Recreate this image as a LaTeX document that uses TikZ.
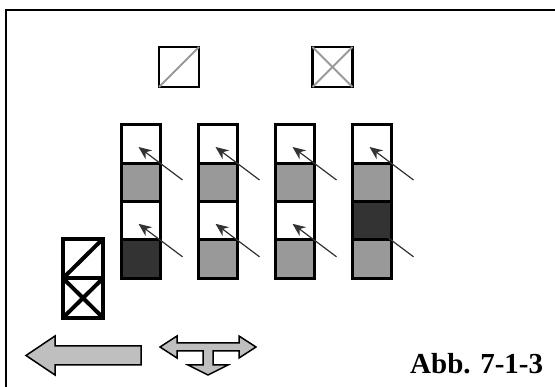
\documentclass[tikz,border=0pt]{standalone}
\usepackage{fontspec}
\setmainfont{Liberation Serif}
\usetikzlibrary{arrows.meta}

\definecolor{cellgray}{gray}{0.6}
\definecolor{celldark}{gray}{0.2}
\definecolor{arrowfill}{gray}{0.75}

\tikzset{
    cell/.style={draw, line width=3pt, minimum width=39pt, minimum height=38.4pt, inner sep=0pt, outer sep=0pt},
    markbox/.style={draw, line width=2.5pt, minimum size=40pt, inner sep=0pt, outer sep=0pt},
    markline/.style={draw=cellgray, line width=2pt},
    stackbox/.style={draw, line width=4pt, minimum width=40pt, minimum height=39.5pt, inner sep=0pt, outer sep=0pt},
    stackline/.style={line width=4pt},
    pointer/.style={draw=celldark, line width=1.2pt, -{Stealth[length=13pt,width=11pt]}},
    bigarrow/.style={draw, line width=1.5pt, fill=arrowfill, line join=miter}
}

\begin{document}
\begin{tikzpicture}[x=1pt, y=-1pt]
    \useasboundingbox (0,0) rectangle (555,387);
    % frame
    \draw[line width=2pt] (6,390) -- (6,10) -- (558,10);

    % the two marks on top
    \node[markbox] (marka) at (179,67) {};
    \node[markbox] (markb) at (332.5,67) {};
    \draw[markline] (marka.south west) -- (marka.north east);
    \draw[markline] (markb.south west) -- (markb.north east);
    \draw[markline] (markb.north west) -- (markb.south east);

    % the four columns
    \foreach \c/\fa/\fb/\fc/\fd in {1/white/cellgray/white/celldark,
                                    2/white/cellgray/white/cellgray,
                                    3/white/cellgray/white/cellgray,
                                    4/white/cellgray/celldark/cellgray}
        \foreach \r/\f in {1/\fa, 2/\fb, 3/\fc, 4/\fd}
            \node[cell, fill=\f] (c\c\r) at ({140.5+77*(\c-1)}, {144+38.4*(\r-1)}) {};

    \foreach \c in {1,...,4}
        \foreach \r in {1,3} {
            \coordinate (t\c\r) at ([shift={(42,36)}]c\c\r.center);
            \draw[pointer] (t\c\r) -- ([shift={(-2,3)}]c\c\r.center);
        }

    % stack on the left
    \node[stackbox] (stacka) at (83,258.5) {};
    \node[stackbox] (stackb) at (83,298) {};
    \draw[stackline] (stacka.south west) -- (stacka.north east);
    \draw[stackline] (stackb.south west) -- (stackb.north east);
    \draw[stackline] (stackb.north west) -- (stackb.south east);

    % arrows at the bottom
    \draw[bigarrow] (26,355.5) -- (55,336) -- (55,346) -- (141,346) -- (141,365)
        -- (55,365) -- (55,375) -- cycle;
    \draw[bigarrow] (160,347) -- (177,336) -- (177,343) -- (239,343) -- (239,336)
        -- (256,347) -- (239,358) -- (239,351) -- (213,351) -- (213,365) -- (228,365)
        -- (208,375) -- (188,365) -- (203,365) -- (203,351) -- (177,351) -- (177,358) -- cycle;

    \node[font=\bfseries\fontsize{29}{32}\selectfont, anchor=base west, inner sep=0pt] (caption) at (410,374) {Abb. 7-1-3};
\end{tikzpicture}
\end{document}
